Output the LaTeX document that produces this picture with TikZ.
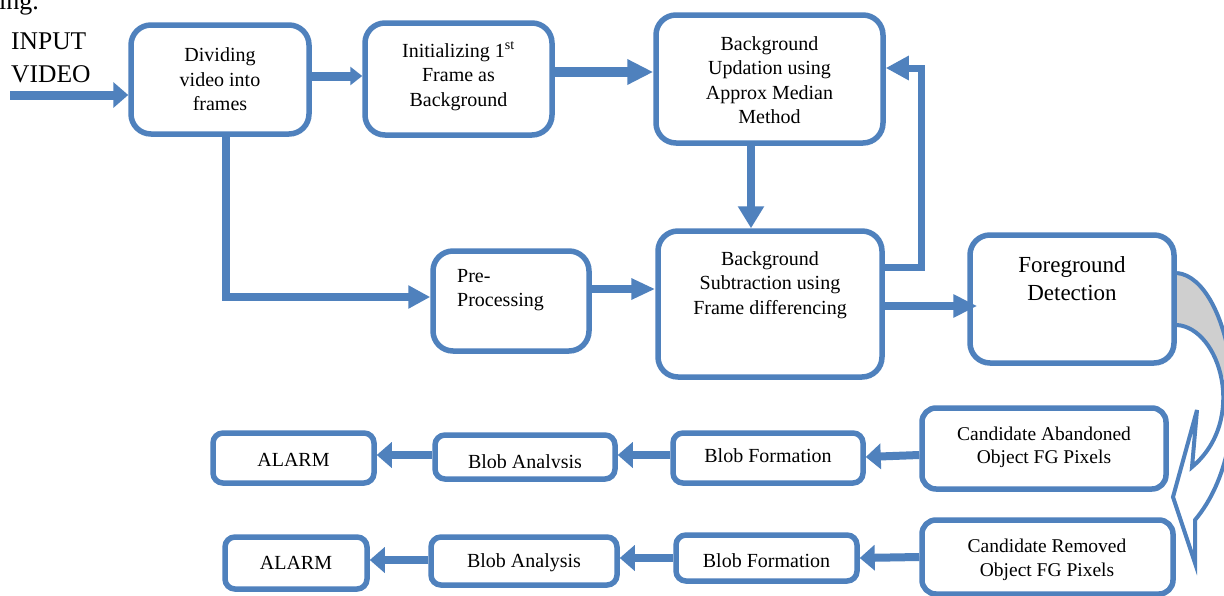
\documentclass[tikz,border=0pt]{standalone}
\usepackage{fontspec}
\setmainfont{Liberation Serif}
\usetikzlibrary{arrows.meta}
\definecolor{ublue}{HTML}{4F81BD}
\definecolor{ugray}{HTML}{CFCFCF}
\tikzset{
  box/.style={draw=ublue, line width=5.5pt, fill=white, rounded corners=20pt, inner sep=0pt},
  sbox/.style={draw=ublue, line width=5.5pt, fill=white, rounded corners=10pt, inner sep=0pt},
  txt/.style={font=\fontsize{20}{24.5}\selectfont, align=center, inner sep=0pt},
  stxt/.style={font=\fontsize{20}{24}\selectfont, align=center, inner sep=0pt},
  conn/.style={draw=ublue, line width=8pt, -{Triangle[length=15pt,width=25pt]}},
}
\begin{document}
\begin{tikzpicture}[x=1pt,y=-1pt]
\path[use as bounding box, clip] (0,0) rectangle (1224,595);
\fill[white] (0,0) rectangle (1224,595);

% cut-off text at top left
\node[anchor=base west, inner sep=0pt, font=\fontsize{26}{30}\selectfont] (frag) at (-1,9) {ing.};
\node[anchor=north west, inner sep=0pt, align=left, font=\fontsize{25.5}{33}\selectfont] (inp) at (11,33) {INPUT\\VIDEO};
\coordinate (src) at (10,95);

% curved block arrow (drawn below boxes)
\path[fill=white] (1177,273) .. controls (1230,278) and (1262,440) .. (1195,520)
  -- (1195,563) -- (1173,497) -- (1197,410) -- (1192,467)
  .. controls (1248,420) and (1220,328) .. (1177,325) -- cycle;
\path[fill=ugray] (1177,273) .. controls (1203.5,275.5) and (1224.75,317.25) .. (1231,368.4)
  -- (1221.6,379.5) .. controls (1216.25,350.25) and (1198.5,326.5) .. (1177,325) -- cycle;
\draw[draw=ublue, line width=4pt, line join=miter] (1177,273) .. controls (1230,278) and (1262,440) .. (1195,520)
  -- (1195,563) -- (1173,497) -- (1197,410) -- (1192,467)
  .. controls (1248,420) and (1220,328) .. (1177,325);

% boxes
\node[box, minimum width=178pt, minimum height=109pt] (div) at (220,79.5) {};
\node[box, minimum width=187pt, minimum height=112pt] (init) at (458.5,79) {};
\node[box, minimum width=227pt, minimum height=128pt] (upd) at (769.5,79) {};
\node[box, minimum width=156pt, minimum height=100pt] (pre) at (511,301) {};
\node[box, minimum width=224pt, minimum height=146pt] (sub) at (770,304) {};
\node[box, minimum width=204pt, minimum height=128pt] (fg) at (1072,299) {};
\node[box, rounded corners=14pt, minimum width=244pt, minimum height=81pt] (cab) at (1044,448.5) {};
\node[box, rounded corners=14pt, minimum width=251pt, minimum height=74pt] (crm) at (1047.5,557) {};
\node[sbox, minimum width=190pt, minimum height=50pt] (bf1) at (768,458) {};
\node[sbox, minimum width=180pt, minimum height=44pt] (ba1) at (525,457) {};
\node[sbox, minimum width=161pt, minimum height=50pt] (al1) at (293.5,458) {};
\node[sbox, minimum width=181pt, minimum height=46pt] (bf2) at (766.5,558) {};
\node[sbox, minimum width=186pt, minimum height=48pt] (ba2) at (524,561) {};
\node[sbox, minimum width=142pt, minimum height=52pt] (al2) at (296,563) {};

% texts
\node[txt] (tdiv) at (div.center) {Dividing\\video into\\frames};
\node[txt] (tinit) at (458.5,76) {Initializing 1\textsuperscript{st}\\Frame as\\Background};
\node[txt] (tupd) at (769.5,80) {Background\\Updation using\\Approx Median\\Method};
\node[txt, anchor=west, align=left] (tpre) at (457,290) {Pre-\\Processing};
\node[txt] (tsub) at (770,285) {Background\\Subtraction using\\Frame differencing};
\node[txt, font=\fontsize{23}{28}\selectfont] (tfg) at (1072,279) {Foreground\\Detection};
\node[txt, font=\fontsize{19.5}{23}\selectfont] (tcab) at (1044,447) {Candidate Abandoned\\Object FG Pixels};
\node[txt, font=\fontsize{19.5}{24}\selectfont] (tcrm) at (1047,560) {Candidate Removed\\Object FG Pixels};
\node[stxt] (tbf1) at (768,456) {Blob Formation};
\begin{scope}
\clip (430,430) rectangle (620,467);
\node[stxt, anchor=base] (tba1) at (525,468) {Blob Analysis};
\end{scope}
\node[stxt] (tal1) at (293.5,460) {ALARM};
\node[stxt] (tbf2) at (766.5,561) {Blob Formation};
\node[stxt] (tba2) at (524,563) {Blob Analysis};
\node[stxt] (tal2) at (296,563) {ALARM};

% connectors
\draw[conn, line width=9pt, -{Triangle[length=15pt,width=25pt]}] (src) -- (div.west |- 0,95);
\draw[conn, line width=9pt, -{Triangle[length=12pt,width=18pt]}] (div.east |- 0,76) -- (init.west |- 0,76);
\draw[conn, line width=10pt, -{Triangle[length=26pt,width=24pt]}] (init.east |- 0,72) -- (upd.west |- 0,72);
\draw[conn, line width=8pt, line join=miter, -{Triangle[length=22pt,width=22pt]}] (div.south -| 226,0) |- (pre.west |- 0,297);
\draw[conn, line width=8pt, -{Triangle[length=24pt,width=20pt]}] (pre.east |- 0,289) -- (sub.west |- 0,289);
\draw[conn, line width=8pt, -{Triangle[length=22pt,width=25pt]}] (upd.south -| 751,0) -- (sub.north -| 751,0);
\draw[conn, line width=7pt, line join=miter, -{Triangle[length=23pt,width=23pt]}] (sub.east |- 0,267) -| (921,150) |- (upd.east |- 0,68);
\draw[conn, line width=8pt, -{Triangle[length=24pt,width=22pt]}] (sub.east |- 0,306) -- ([xshift=10pt]fg.west |- 0,306);

\draw[conn] (cab.west |- 0,455) -- (bf1.east |- 0,457);
\draw[conn] (bf1.west |- 0,455) -- (ba1.east |- 0,455);
\draw[conn] (ba1.west |- 0,455) -- (al1.east |- 0,455);
\draw[conn] (crm.west |- 0,557) -- (bf2.east |- 0,558);
\draw[conn] (bf2.west |- 0,558) -- (ba2.east |- 0,558);
\draw[conn] (ba2.west |- 0,560) -- (al2.east |- 0,560);
\end{tikzpicture}
\end{document}
